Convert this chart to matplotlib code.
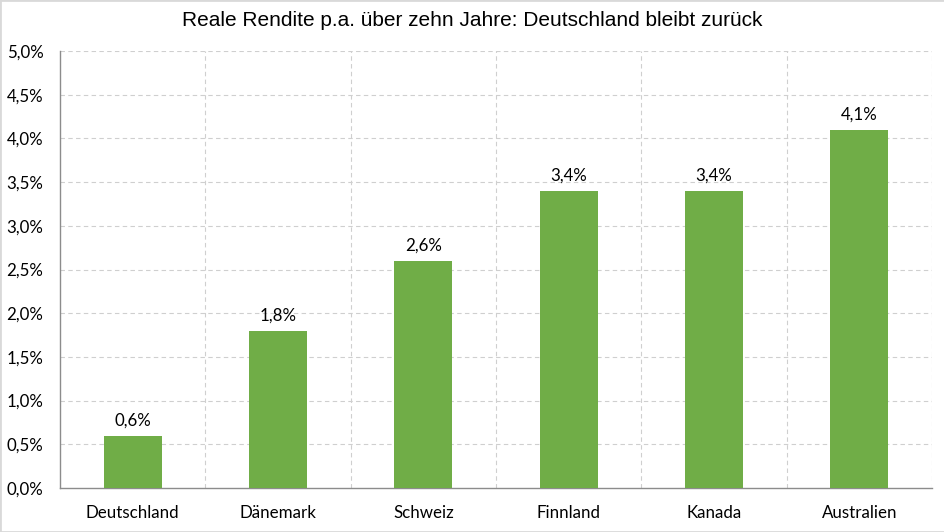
import matplotlib
matplotlib.use("Agg")
import matplotlib.pyplot as plt
from matplotlib.patches import Rectangle
from matplotlib.ticker import FuncFormatter, MultipleLocator

categories = ["Deutschland", "Dänemark", "Schweiz", "Finnland", "Kanada", "Australien"]
values = [0.6, 1.8, 2.6, 3.4, 3.4, 4.1]
title = "Reale Rendite p.a. über zehn Jahre: Deutschland bleibt zurück"

W, H = 945, 532
fig = plt.figure(figsize=(W / 100, H / 100), dpi=100)
ax = fig.add_axes([60 / W, 1 - 488 / H, (932 - 60) / W, (488 - 51) / H])

x = list(range(len(categories)))
ax.bar(x, values, width=0.4, color="#70AD47", zorder=3)
ax.set_xlim(-0.5, len(categories) - 0.5)
ax.set_ylim(0, 5.0)
ax.yaxis.set_major_locator(MultipleLocator(0.5))
ax.yaxis.set_major_formatter(FuncFormatter(lambda v, p: f"{v:.1f}%".replace(".", ",")))
ax.set_xticks(x)
ax.set_xticklabels(categories)

lab_font = "Lato"
fs = 12.2
for t in ax.get_xticklabels() + ax.get_yticklabels():
    t.set_fontfamily(lab_font)
    t.set_fontsize(fs)
    t.set_color("#000000")
ax.tick_params(axis="both", length=0)
ax.tick_params(axis="x", pad=12)
ax.tick_params(axis="y", pad=12)

grid_kw = dict(color="#cfcfcf", linestyle=(0, (4, 3)), linewidth=0.8, zorder=1)
for yv in [i * 0.5 for i in range(1, 11)]:
    ax.axhline(yv, **grid_kw)
for xb in [i + 0.5 for i in range(len(categories))]:
    ax.axvline(xb, **grid_kw)

for s in ["top", "right"]:
    ax.spines[s].set_visible(False)
for s in ["left", "bottom"]:
    ax.spines[s].set_color("#8c8c8c")
    ax.spines[s].set_linewidth(1.0)

for xi, v in zip(x, values):
    ax.annotate(f"{v:.1f}%".replace(".", ","), (xi, v), xytext=(0, 5),
                textcoords="offset points", ha="center", va="bottom",
                fontfamily=lab_font, fontsize=fs, color="#000000")

fig.text(472 / W, 1 - 21 / H, title, ha="center", va="center",
         fontfamily="Liberation Sans", fontsize=15, color="#000000")

fig.patches.append(Rectangle((0, 0), 1, 1, transform=fig.transFigure, fill=False,
                             edgecolor="#d9d9d9", linewidth=2.0))

fig.savefig("out.png", dpi=100)
